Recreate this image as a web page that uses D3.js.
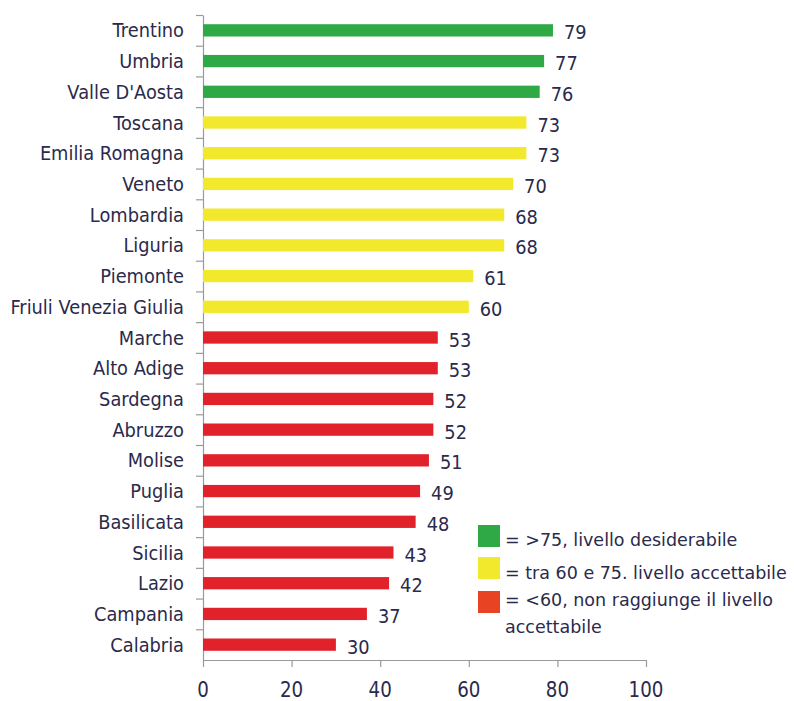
<!DOCTYPE html>
<html><head><meta charset="utf-8">
<script src="https://cdn.jsdelivr.net/npm/d3@7"></script>
<style>
html,body{margin:0;padding:0;background:#fff;}
svg text{font-family:"DejaVu Sans",Verdana,sans-serif;fill:#2a2a4c;}
</style></head>
<body><svg id="chart" width="794" height="701"></svg>
<script>
const regions = ["Trentino","Umbria","Valle D'Aosta","Toscana","Emilia Romagna","Veneto","Lombardia","Liguria","Piemonte","Friuli Venezia Giulia","Marche","Alto Adige","Sardegna","Abruzzo","Molise","Puglia","Basilicata","Sicilia","Lazio","Campania","Calabria"];
const values = [79,77,76,73,73,70,68,68,61,60,53,53,52,52,51,49,48,43,42,37,30];
const xTicks = [0,20,40,60,80,100];
const legendLabels = [["= >75, livello desiderabile"],["= tra 60 e 75. livello accettabile"],["= <60, non raggiunge il livello","accettabile"]];
const barColors = ["#2fa846","#f2e92c","#e2222a"];
const legendColors = ["#2fa846","#f2e92c","#e84322"];
function tier(v){ return v>75 ? 0 : (v>=60 ? 1 : 2); }

const svg = d3.select("#chart");
const SX = 0.89;
const x = d3.scaleLinear().domain([0,100]).range([203,646]);
const y = d3.scaleBand().domain(regions).range([15,660]).paddingInner(0.6).paddingOuter(0.3);
const yIdx = d3.scaleLinear().domain([0,regions.length]).range([15,660]);

// y axis (ticks at band boundaries)
const gy = svg.append("g").attr("transform","translate(203,0)")
  .call(d3.axisLeft(yIdx).tickValues(d3.range(regions.length)).tickFormat("").tickSize(7).tickSizeOuter(0));
gy.selectAll("path,line").attr("stroke","#9a9a9a").attr("stroke-width",1.2);

// x axis
const gx = svg.append("g").attr("transform","translate(0,660)")
  .call(d3.axisBottom(x).tickValues(xTicks).tickSize(7).tickSizeOuter(0).tickFormat(""));
gx.selectAll("path,line").attr("stroke","#9a9a9a").attr("stroke-width",1.2);
svg.append("g").selectAll("text").data(xTicks).join("text")
  .attr("transform",d=>`translate(${x(d)},697) scale(${SX},1)`)
  .attr("text-anchor","middle").attr("font-size",20.5).text(d=>d);

// category labels
svg.append("g").selectAll("text").data(regions).join("text")
  .attr("transform",d=>`translate(184,${y(d)+y.bandwidth()/2+7}) scale(${SX},1)`)
  .attr("text-anchor","end").attr("font-size",20).text(d=>d);

// bars
svg.append("g").selectAll("rect").data(values).join("rect")
  .attr("x",x(0)).attr("y",(d,i)=>y(regions[i]))
  .attr("width",d=>x(d)-x(0)).attr("height",y.bandwidth())
  .attr("fill",d=>barColors[tier(d)]);

// value labels
svg.append("g").selectAll("text").data(values).join("text")
  .attr("transform",(d,i)=>`translate(${x(d)+11},${y(regions[i])+y.bandwidth()/2+9}) scale(${SX},1)`)
  .attr("font-size",20).text(d=>d);

// legend
const lg = svg.append("g");
const sqY = [525,557,591];
const txY = [546,579,606];
legendColors.forEach((c,i)=>{
  lg.append("rect").attr("x",478).attr("y",sqY[i]).attr("width",22).attr("height",22).attr("fill",c);
  legendLabels[i].forEach((t,j)=>{
    lg.append("text").attr("transform",`translate(505,${txY[i]+j*27})`)
      .attr("font-size",17.5).text(t);
  });
});
</script></body></html>
